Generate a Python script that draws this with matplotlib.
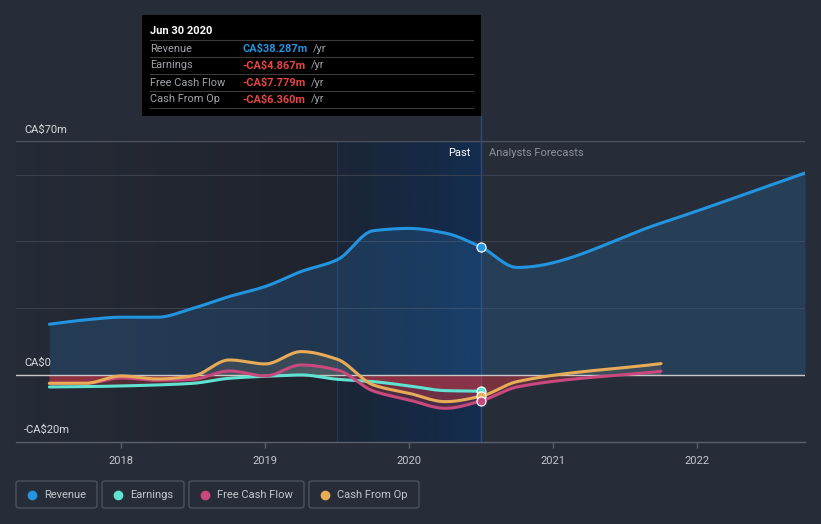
import numpy as np
import matplotlib
matplotlib.use("Agg")
import matplotlib.pyplot as plt
from matplotlib.patches import Rectangle, FancyBboxPatch
from matplotlib.colors import to_rgb

plt.rcParams["font.family"] = ["Roboto", "DejaVu Sans"]

# quarterly history (fiscal dates as decimal years)
past_dates = [2017.5, 2017.75, 2018.0, 2018.25, 2018.5, 2018.75, 2019.0,
              2019.25, 2019.5, 2019.75, 2020.0, 2020.25, 2020.5]
revenue_past = [15.2, 16.5, 17.3, 17.3, 20.0, 23.5, 26.5, 31.0, 34.5, 43.2, 43.9, 42.5, 38.287]
earnings_past = [-3.6, -3.5, -3.3, -3.0, -2.5, -1.0, -0.4, 0.0, -1.3, -2.0, -3.3, -4.7, -4.867]
fcf_past = [-2.5, -2.5, -0.9, -1.6, -1.3, 1.2, -0.3, 3.0, 1.5, -4.8, -7.5, -10.0, -7.779]
cfo_past = [-2.5, -2.5, -0.3, -1.2, -0.3, 4.5, 3.3, 7.0, 4.7, -3.0, -5.5, -8.0, -6.360]

# analyst forecasts
rev_fc_dates = [2020.5, 2020.75, 2021.75, 2022.75]
revenue_fc = [38.287, 32.2, 45.5, 60.5]
cf_fc_dates = [2020.5, 2020.75, 2021.75]
fcf_fc = [-7.779, -3.6, 1.1]
cfo_fc = [-6.360, -2.0, 3.4]

years = [2018, 2019, 2020, 2021, 2022]
ytick_labels = {70: "CA$70m", 0: "CA$0", -20: "-CA$20m"}

BG = "#262c38"
C_REV = "#2394df"
C_EARN = "#5fe3d0"
C_FCF = "#c9487e"
C_CFO = "#e8ab58"
W, H = 821, 524


def px(x, y):
    return x / W, 1 - y / H


def pchip(x, y, xs):
    x = np.asarray(x, float)
    y = np.asarray(y, float)
    h = np.diff(x)
    d = np.diff(y) / h
    m = np.zeros_like(y)
    for k in range(1, len(x) - 1):
        if d[k - 1] * d[k] > 0:
            w1 = 2 * h[k] + h[k - 1]
            w2 = h[k] + 2 * h[k - 1]
            m[k] = (w1 + w2) / (w1 / d[k - 1] + w2 / d[k])
    m[0] = d[0]
    m[-1] = d[-1]
    idx = np.clip(np.searchsorted(x, xs) - 1, 0, len(x) - 2)
    t = (xs - x[idx]) / h[idx]
    h00 = 2 * t**3 - 3 * t**2 + 1
    h10 = t**3 - 2 * t**2 + t
    h01 = -2 * t**3 + 3 * t**2
    h11 = t**3 - t**2
    return h00 * y[idx] + h10 * h[idx] * m[idx] + h01 * y[idx + 1] + h11 * h[idx] * m[idx + 1]


def smooth(x, y, n=300):
    xs = np.linspace(x[0], x[-1], n)
    return xs, pchip(x, y, xs)


fig = plt.figure(figsize=(W / 100, H / 100), dpi=100, facecolor=BG)
x0, y0 = px(16, 441.7)
x1, y1 = px(805, 141.3)
ax = fig.add_axes([x0, y0, x1 - x0, y1 - y0], facecolor=BG)
xmin, xmax = 2017.268, 2022.75
ymin, ymax = -20, 70

# past shading: dark gradient, then blue highlight for the last year
grad = np.zeros((2, 256, 4))
grad[..., 3] = np.linspace(0.03, 0.28, 256)
ax.imshow(grad, extent=[xmin, 2020.5, ymin, ymax], aspect="auto", zorder=0)
blue = np.zeros((2, 256, 4))
blue[..., :3] = to_rgb("#0f3568")
blue[..., 3] = np.linspace(0.15, 0.62, 256)
ax.imshow(blue, extent=[2019.5, 2020.5, ymin, ymax], aspect="auto", zorder=0)
ax.axvline(2019.5, color="#1d3a66", lw=0.8, zorder=1)
ax.axvline(2020.5, color="#2b4c7c", lw=1.0, zorder=1)

for g in [20, 40, 60]:
    ax.axhline(g, color="#3a414e", lw=0.8, zorder=1)
ax.axhline(70, color="#4e5462", lw=1.0, zorder=1)
ax.axhline(0, color="#c8c8c8", lw=1.0, zorder=4)

# revenue
rx, ry = smooth(past_dates + rev_fc_dates[1:], revenue_past + revenue_fc[1:], 600)
ax.fill_between(rx, ry, 0, color="#2d7fc8", alpha=0.22, lw=0, zorder=2)
ax.plot(rx, ry, color=C_REV, lw=2.2, zorder=6, solid_capstyle="round")

# earnings, free cash flow, cash from op
series = [
    (past_dates, earnings_past, C_EARN),
    (past_dates + cf_fc_dates[1:], fcf_past + fcf_fc[1:], C_FCF),
    (past_dates + cf_fc_dates[1:], cfo_past + cfo_fc[1:], C_CFO),
]
for xs, ys, c in series:
    sx, sy = smooth(xs, ys, 500)
    ax.fill_between(sx, sy, 0, where=sy < 0, color="#d03a48", alpha=0.28, lw=0, zorder=3)
    ax.fill_between(sx, sy, 0, where=sy > 0, color="#8a8a78", alpha=0.22, lw=0, zorder=3)
    ax.plot(sx, sy, color=c, lw=2.2, zorder=5, solid_capstyle="round")

# markers at the last reported point
for v, c in [(revenue_past[-1], C_REV), (earnings_past[-1], C_EARN),
             (cfo_past[-1], C_CFO), (fcf_past[-1], C_FCF)]:
    ax.plot(2020.5, v, "o", ms=6.5, color=c, mec="white", mew=0.9, zorder=7)

ax.set_xlim(xmin, xmax)
ax.set_ylim(ymin, ymax)
ax.set_xticks(years)
ax.set_xticklabels([str(y) for y in years])
ax.set_yticks([])
ax.tick_params(axis="x", colors="#5a606c", length=4, width=1, labelcolor="#c4c8cf", labelsize=8, pad=6)
for s in ["top", "left", "right"]:
    ax.spines[s].set_visible(False)
ax.spines["bottom"].set_color("#5a606c")
ax.spines["bottom"].set_linewidth(1.0)

# y labels above their lines
for v, lab in ytick_labels.items():
    ypix = 375 - v * 3.333
    fig.text(*px(24, ypix - 12), lab, color="#d8dadf", fontsize=8, va="center", ha="left")

fig.text(*px(470, 153), "Past", color="white", fontsize=8, ha="right", va="center")
fig.text(*px(489, 153), "Analysts Forecasts", color="#8d929b", fontsize=8, ha="left", va="center")

# tooltip
tx0, ty0 = px(142, 116)
tx1, ty1 = px(481, 15)
fig.patches.append(Rectangle((tx0, ty0), tx1 - tx0, ty1 - ty0, transform=fig.transFigure,
                             facecolor="black", edgecolor="none", zorder=10))
fig.add_artist(plt.Line2D([px(481, 0)[0]] * 2, [px(0, 116)[1], px(0, 141)[1]],
                          transform=fig.transFigure, color="#2b4c7c", lw=1.0))
fig.text(*px(150, 31), "Jun 30 2020", color="white", fontsize=8, fontweight="bold",
         va="center", zorder=11)
for yy in [40, 57, 74, 91, 108]:
    fig.add_artist(plt.Line2D([px(150, 0)[0], px(473, 0)[0]], [px(0, yy)[1]] * 2,
                              transform=fig.transFigure, color="#3c3c3c", lw=0.8, zorder=11))
rows = [("Revenue", "CA$38.287m", C_REV, 313),
        ("Earnings", "-CA$4.867m", "#e84545", 311),
        ("Free Cash Flow", "-CA$7.779m", "#e84545", 311),
        ("Cash From Op", "-CA$6.360m", "#e84545", 311)]
for i, (lab, val, c, yrx) in enumerate(rows):
    yy = 48.5 + i * 17
    fig.text(*px(150, yy), lab, color="#a0a3a8", fontsize=7.9, va="center", zorder=11)
    fig.text(*px(242, yy), val, color=c, fontsize=7.9, va="center", fontweight="bold", zorder=11)
    fig.text(*px(yrx, yy), "/yr", color="#a0a3a8", fontsize=7.9, va="center", zorder=11)

# legend
legend = [("Revenue", C_REV, 16, 97), ("Earnings", C_EARN, 102, 184),
          ("Free Cash Flow", C_FCF, 189, 304), ("Cash From Op", C_CFO, 309, 419)]
for lab, c, lx0, lx1 in legend:
    bx, by = px(lx0, 508)
    bw = (lx1 - lx0) / W
    bh = 27 / H
    fig.patches.append(FancyBboxPatch((bx, by), bw, bh, boxstyle="round,pad=0,rounding_size=0.004",
                                      transform=fig.transFigure, facecolor="none",
                                      edgecolor="#4c525e", lw=1.0))
    fig.add_artist(plt.Line2D([px(lx0 + 16, 0)[0]], [px(0, 494.5)[1]], marker="o", ms=6,
                              color=c, transform=fig.transFigure, lw=0))
    fig.text(*px(lx0 + 28, 494.5), lab, color="#c4c8cf", fontsize=8, va="center")

fig.savefig("out.png", dpi=100, facecolor=BG)
